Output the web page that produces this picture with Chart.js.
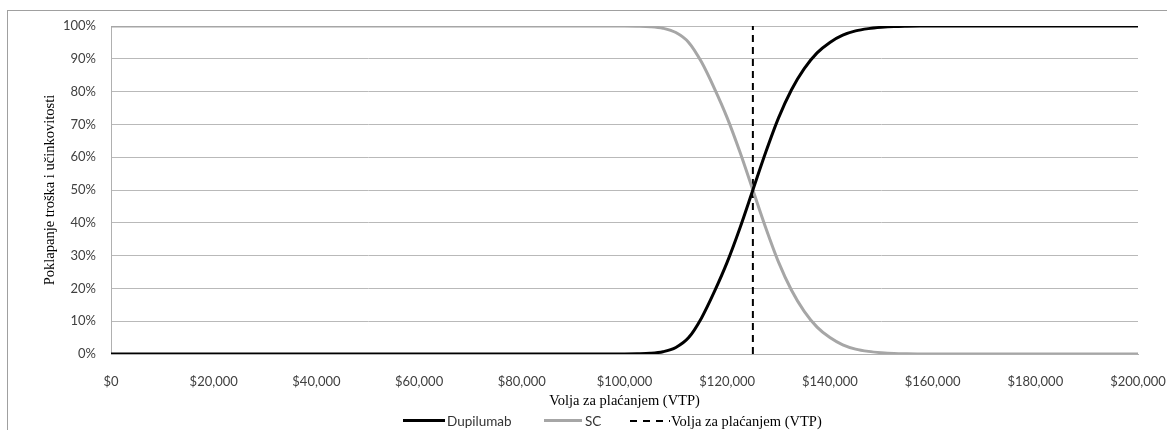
<!DOCTYPE html>
<html>
<head>
<meta charset="utf-8">
<script src="https://cdn.jsdelivr.net/npm/chart.js@4/dist/chart.umd.min.js"></script>
<style>
  html, body { margin: 0; padding: 0; background: #fff; overflow: hidden; }
  body { width: 1167px; height: 430px; position: relative; }
  #frame { position: absolute; left: 7px; top: 10px; width: 1200px; height: 440px;
           border-top: 1px solid #a0a0a0; border-left: 1px solid #a0a0a0; }
  #wrap { position: absolute; left: 0; top: 0; width: 1200px; height: 430px; }
  .leg { position: absolute; top: 411px; height: 20px; line-height: 20px; white-space: nowrap; color: #333; }
  .sans { font-family: Lato, "Open Sans", sans-serif; font-size: 13.5px; }
  .serif { font-family: "Liberation Serif", "Times New Roman", serif; font-size: 14.5px; color: #000; }
  .sw { position: absolute; height: 0; }
</style>
</head>
<body>
<div id="frame"></div>
<div id="wrap"><canvas id="chart-vtp" width="1200" height="430"></canvas></div>

<div class="sw" style="left:403px; top:419px; width:42px; border-top:3px solid #000;"></div>
<div class="leg sans" style="left:447px;">Dupilumab</div>
<div class="sw" style="left:544px; top:419px; width:38px; border-top:3px solid #a6a6a6;"></div>
<div class="leg sans" style="left:585px;">SC</div>
<div class="sw" style="left:630px; top:420px; width:40px; height:2px;
     background: repeating-linear-gradient(90deg, #000 0 7px, transparent 7px 13px);"></div>
<div class="leg serif" style="left:671px;">Volja za plaćanjem (VTP)</div>

<script>
// volja za placanjem (x) i vjerojatnost isplativosti (%)
var wtp = [0, 10000, 20000, 30000, 40000, 50000, 60000, 70000, 80000, 90000,
  100000, 102500, 105000, 107500, 110000, 112500, 115000, 117500, 120000, 122500,
  125000, 127500, 130000, 132500, 135000, 137500, 140000, 142500, 145000, 147500,
  150000, 152500, 155000, 157500, 160000, 170000, 180000, 190000, 200000];
var dupilumab = [0, 0, 0, 0, 0, 0, 0, 0, 0, 0,
  0, 0.05, 0.2, 0.7, 2, 5, 11, 19, 28, 38.5,
  50, 61.5, 72, 80.5, 87, 91.8, 95, 97.2, 98.5, 99.2,
  99.6, 99.85, 99.95, 100, 100, 100, 100, 100, 100];
var sc = [100, 100, 100, 100, 100, 100, 100, 100, 100, 100,
  100, 99.95, 99.8, 99.3, 98, 95, 89, 81, 72, 61.5,
  50, 38.5, 28, 19.5, 13, 8.2, 5, 2.8, 1.5, 0.8,
  0.4, 0.15, 0.05, 0, 0, 0, 0, 0, 0];
var vtp = 125000;
var xTicks = [0, 20000, 40000, 60000, 80000, 100000, 120000, 140000, 160000, 180000, 200000];

var tickFont = {family: "Lato, 'Open Sans', sans-serif", size: 13};
var titleFont = {family: "'Liberation Serif', 'Times New Roman', serif", size: 14.5};

function toPoints(ys) {
  return wtp.map(function (x, i) { return {x: x, y: ys[i]}; });
}

new Chart("chart-vtp", {
  type: "line",
  data: {
    datasets: [{
      label: "Dupilumab",
      data: toPoints(dupilumab),
      borderColor: "#000",
      borderWidth: 3,
      pointRadius: 0,
      cubicInterpolationMode: "monotone"
    }, {
      label: "SC",
      data: toPoints(sc),
      borderColor: "#a6a6a6",
      borderWidth: 3,
      pointRadius: 0,
      cubicInterpolationMode: "monotone"
    }, {
      label: "Volja za plaćanjem (VTP)",
      data: [{x: vtp, y: 0}, {x: vtp, y: 100}],
      borderColor: "#000",
      borderWidth: 2,
      borderDash: [7, 5],
      pointRadius: 0
    }]
  },
  options: {
    responsive: false,
    animation: false,
    layout: {padding: {left: 0, top: 26, right: 62, bottom: 20}},
    plugins: {
      legend: {display: false},
      tooltip: {enabled: false}
    },
    scales: {
      x: {
        type: "linear",
        min: 0,
        max: 200000,
        afterBuildTicks: function (scale) {
          scale.ticks = xTicks.map(function (v) { return {value: v}; });
        },
        afterFit: function (scale) { scale.height = 56; },
        grid: {display: false},
        border: {display: true, color: "#b0b0b0", width: 1},
        ticks: {
          autoSkip: false,
          maxRotation: 0,
          padding: 12,
          color: "#404040",
          font: tickFont,
          callback: function (v) { return "$" + v.toLocaleString("en-US"); }
        },
        title: {
          display: true,
          text: "Volja za plaćanjem (VTP)",
          color: "#000",
          font: titleFont,
          padding: {top: 0, bottom: 0}
        }
      },
      y: {
        min: 0,
        max: 100,
        afterFit: function (scale) { scale.width = 111; },
        grid: {color: "#b9b9b9", lineWidth: 1, drawTicks: false},
        border: {display: true, color: "#b0b0b0", width: 1},
        ticks: {
          stepSize: 10,
          padding: 15,
          color: "#404040",
          font: tickFont,
          callback: function (v) { return v + "%"; }
        },
        title: {
          display: true,
          text: "Poklapanje troška i učinkovitosti",
          color: "#000",
          font: titleFont,
          padding: {top: 41, bottom: 0}
        }
      }
    }
  }
});
</script>
</body>
</html>
